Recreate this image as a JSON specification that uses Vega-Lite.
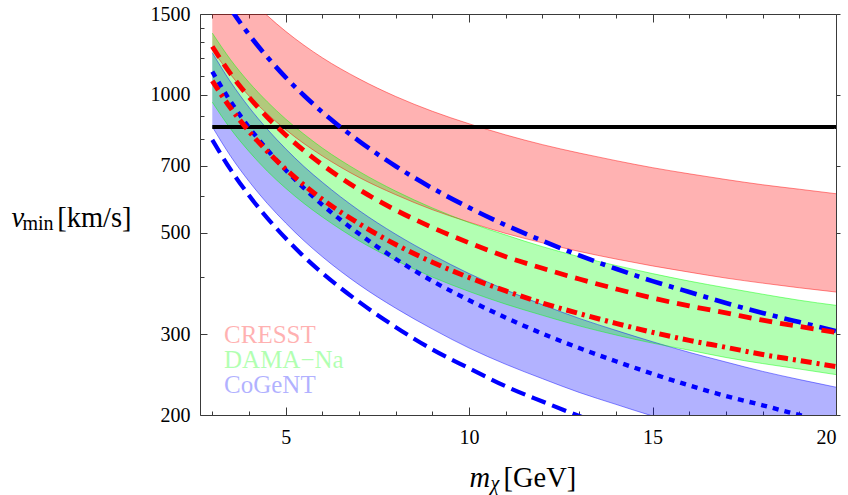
{
  "$schema": "https://vega.github.io/schema/vega-lite/v6.json",
  "width": 636,
  "height": 401,
  "autosize": {"type": "none"},
  "padding": {"left": 200, "top": 14, "right": 12, "bottom": 80},
  "background": "white",
  "config": {
    "view": {"stroke": null},
    "font": "Liberation Serif",
    "axis": {
      "labelFont": "Liberation Serif",
      "titleFont": "Liberation Serif",
      "labelFontSize": 20,
      "titleFontWeight": "normal",
      "labelColor": "#000000",
      "titleColor": "#000000",
      "domainColor": "#3a3a3a",
      "tickColor": "#3a3a3a",
      "grid": false
    }
  },
  "datasets": {
    "bands": [
      {"band": "CoGeNT", "m": 3, "lo": 851, "hi": 1235},
      {"band": "CoGeNT", "m": 3.5, "lo": 734, "hi": 1066},
      {"band": "CoGeNT", "m": 4, "lo": 647, "hi": 939},
      {"band": "CoGeNT", "m": 4.5, "lo": 579, "hi": 841},
      {"band": "CoGeNT", "m": 5, "lo": 525, "hi": 762},
      {"band": "CoGeNT", "m": 5.5, "lo": 480, "hi": 697},
      {"band": "CoGeNT", "m": 6, "lo": 443, "hi": 644},
      {"band": "CoGeNT", "m": 7, "lo": 385, "hi": 559},
      {"band": "CoGeNT", "m": 8, "lo": 342, "hi": 496},
      {"band": "CoGeNT", "m": 9, "lo": 308, "hi": 447},
      {"band": "CoGeNT", "m": 10, "lo": 280, "hi": 407},
      {"band": "CoGeNT", "m": 11, "lo": 258, "hi": 375},
      {"band": "CoGeNT", "m": 12, "lo": 240, "hi": 348},
      {"band": "CoGeNT", "m": 13, "lo": 224, "hi": 325},
      {"band": "CoGeNT", "m": 14, "lo": 211, "hi": 306},
      {"band": "CoGeNT", "m": 15, "lo": 199, "hi": 289},
      {"band": "CoGeNT", "m": 16, "lo": 189, "hi": 274},
      {"band": "CoGeNT", "m": 17, "lo": 180, "hi": 261},
      {"band": "CoGeNT", "m": 18, "lo": 172, "hi": 249},
      {"band": "CoGeNT", "m": 19, "lo": 165, "hi": 239},
      {"band": "CoGeNT", "m": 20, "lo": 158, "hi": 230},
      {"band": "CRESST", "m": 3, "lo": 1254, "hi": 2056},
      {"band": "CRESST", "m": 3.5, "lo": 1106, "hi": 1813},
      {"band": "CRESST", "m": 4, "lo": 994, "hi": 1630},
      {"band": "CRESST", "m": 4.5, "lo": 908, "hi": 1488},
      {"band": "CRESST", "m": 5, "lo": 839, "hi": 1375},
      {"band": "CRESST", "m": 5.5, "lo": 782, "hi": 1282},
      {"band": "CRESST", "m": 6, "lo": 735, "hi": 1204},
      {"band": "CRESST", "m": 7, "lo": 660, "hi": 1083},
      {"band": "CRESST", "m": 8, "lo": 605, "hi": 991},
      {"band": "CRESST", "m": 9, "lo": 561, "hi": 920},
      {"band": "CRESST", "m": 10, "lo": 527, "hi": 864},
      {"band": "CRESST", "m": 11, "lo": 498, "hi": 817},
      {"band": "CRESST", "m": 12, "lo": 475, "hi": 778},
      {"band": "CRESST", "m": 13, "lo": 455, "hi": 746},
      {"band": "CRESST", "m": 14, "lo": 438, "hi": 718},
      {"band": "CRESST", "m": 15, "lo": 423, "hi": 693},
      {"band": "CRESST", "m": 16, "lo": 410, "hi": 672},
      {"band": "CRESST", "m": 17, "lo": 398, "hi": 653},
      {"band": "CRESST", "m": 18, "lo": 388, "hi": 636},
      {"band": "CRESST", "m": 19, "lo": 379, "hi": 622},
      {"band": "CRESST", "m": 20, "lo": 371, "hi": 608},
      {"band": "DAMA", "m": 3, "lo": 963, "hi": 1363},
      {"band": "DAMA", "m": 3.5, "lo": 842, "hi": 1192},
      {"band": "DAMA", "m": 4, "lo": 752, "hi": 1064},
      {"band": "DAMA", "m": 4.5, "lo": 681, "hi": 965},
      {"band": "DAMA", "m": 5, "lo": 625, "hi": 885},
      {"band": "DAMA", "m": 5.5, "lo": 579, "hi": 820},
      {"band": "DAMA", "m": 6, "lo": 541, "hi": 765},
      {"band": "DAMA", "m": 7, "lo": 480, "hi": 680},
      {"band": "DAMA", "m": 8, "lo": 435, "hi": 616},
      {"band": "DAMA", "m": 9, "lo": 400, "hi": 566},
      {"band": "DAMA", "m": 10, "lo": 372, "hi": 526},
      {"band": "DAMA", "m": 11, "lo": 349, "hi": 494},
      {"band": "DAMA", "m": 12, "lo": 330, "hi": 466},
      {"band": "DAMA", "m": 13, "lo": 313, "hi": 443},
      {"band": "DAMA", "m": 14, "lo": 299, "hi": 424},
      {"band": "DAMA", "m": 15, "lo": 287, "hi": 407},
      {"band": "DAMA", "m": 16, "lo": 277, "hi": 392},
      {"band": "DAMA", "m": 17, "lo": 267, "hi": 379},
      {"band": "DAMA", "m": 18, "lo": 259, "hi": 367},
      {"band": "DAMA", "m": 19, "lo": 252, "hi": 356},
      {"band": "DAMA", "m": 20, "lo": 245, "hi": 347}
    ],
    "curves": [
      {"curve": "limit", "m": 3, "v": 850},
      {"curve": "limit", "m": 20, "v": 850},
      {"curve": "A1", "m": 3, "v": 797},
      {"curve": "A1", "m": 3.5, "v": 686},
      {"curve": "A1", "m": 4, "v": 603},
      {"curve": "A1", "m": 4.5, "v": 538},
      {"curve": "A1", "m": 5, "v": 486},
      {"curve": "A1", "m": 5.5, "v": 443},
      {"curve": "A1", "m": 6, "v": 408},
      {"curve": "A1", "m": 7, "v": 353},
      {"curve": "A1", "m": 8, "v": 311},
      {"curve": "A1", "m": 9, "v": 278},
      {"curve": "A1", "m": 10, "v": 253},
      {"curve": "A1", "m": 11, "v": 231},
      {"curve": "A1", "m": 12, "v": 214},
      {"curve": "A1", "m": 13, "v": 199},
      {"curve": "A1", "m": 14, "v": 186},
      {"curve": "A1", "m": 15, "v": 175},
      {"curve": "A2", "m": 3, "v": 1123},
      {"curve": "A2", "m": 3.5, "v": 966},
      {"curve": "A2", "m": 4, "v": 849},
      {"curve": "A2", "m": 4.5, "v": 758},
      {"curve": "A2", "m": 5, "v": 685},
      {"curve": "A2", "m": 5.5, "v": 625},
      {"curve": "A2", "m": 6, "v": 575},
      {"curve": "A2", "m": 7, "v": 497},
      {"curve": "A2", "m": 8, "v": 438},
      {"curve": "A2", "m": 9, "v": 392},
      {"curve": "A2", "m": 10, "v": 356},
      {"curve": "A2", "m": 11, "v": 326},
      {"curve": "A2", "m": 12, "v": 301},
      {"curve": "A2", "m": 13, "v": 280},
      {"curve": "A2", "m": 14, "v": 262},
      {"curve": "A2", "m": 15, "v": 246},
      {"curve": "A2", "m": 16, "v": 232},
      {"curve": "A2", "m": 17, "v": 220},
      {"curve": "A2", "m": 18, "v": 210},
      {"curve": "A2", "m": 19, "v": 200},
      {"curve": "A2", "m": 20, "v": 191},
      {"curve": "A3", "m": 3, "v": 1790},
      {"curve": "A3", "m": 3.5, "v": 1540},
      {"curve": "A3", "m": 4, "v": 1353},
      {"curve": "A3", "m": 4.5, "v": 1208},
      {"curve": "A3", "m": 5, "v": 1091},
      {"curve": "A3", "m": 5.5, "v": 996},
      {"curve": "A3", "m": 6, "v": 916},
      {"curve": "A3", "m": 7, "v": 792},
      {"curve": "A3", "m": 8, "v": 698},
      {"curve": "A3", "m": 9, "v": 625},
      {"curve": "A3", "m": 10, "v": 567},
      {"curve": "A3", "m": 11, "v": 519},
      {"curve": "A3", "m": 12, "v": 480},
      {"curve": "A3", "m": 13, "v": 446},
      {"curve": "A3", "m": 14, "v": 417},
      {"curve": "A3", "m": 15, "v": 392},
      {"curve": "A3", "m": 16, "v": 371},
      {"curve": "A3", "m": 17, "v": 351},
      {"curve": "A3", "m": 18, "v": 334},
      {"curve": "A3", "m": 19, "v": 319},
      {"curve": "A3", "m": 20, "v": 305},
      {"curve": "B1", "m": 3, "v": 1274},
      {"curve": "B1", "m": 3.5, "v": 1110},
      {"curve": "B1", "m": 4, "v": 988},
      {"curve": "B1", "m": 4.5, "v": 893},
      {"curve": "B1", "m": 5, "v": 817},
      {"curve": "B1", "m": 5.5, "v": 755},
      {"curve": "B1", "m": 6, "v": 703},
      {"curve": "B1", "m": 7, "v": 621},
      {"curve": "B1", "m": 8, "v": 560},
      {"curve": "B1", "m": 9, "v": 513},
      {"curve": "B1", "m": 10, "v": 475},
      {"curve": "B1", "m": 11, "v": 443},
      {"curve": "B1", "m": 12, "v": 418},
      {"curve": "B1", "m": 13, "v": 396},
      {"curve": "B1", "m": 14, "v": 377},
      {"curve": "B1", "m": 15, "v": 360},
      {"curve": "B1", "m": 16, "v": 346},
      {"curve": "B1", "m": 17, "v": 334},
      {"curve": "B1", "m": 18, "v": 322},
      {"curve": "B1", "m": 19, "v": 312},
      {"curve": "B1", "m": 20, "v": 303},
      {"curve": "B2", "m": 3, "v": 1072},
      {"curve": "B2", "m": 3.5, "v": 935},
      {"curve": "B2", "m": 4, "v": 832},
      {"curve": "B2", "m": 4.5, "v": 752},
      {"curve": "B2", "m": 5, "v": 688},
      {"curve": "B2", "m": 5.5, "v": 635},
      {"curve": "B2", "m": 6, "v": 591},
      {"curve": "B2", "m": 7, "v": 523},
      {"curve": "B2", "m": 8, "v": 471},
      {"curve": "B2", "m": 9, "v": 431},
      {"curve": "B2", "m": 10, "v": 399},
      {"curve": "B2", "m": 11, "v": 373},
      {"curve": "B2", "m": 12, "v": 351},
      {"curve": "B2", "m": 13, "v": 333},
      {"curve": "B2", "m": 14, "v": 317},
      {"curve": "B2", "m": 15, "v": 303},
      {"curve": "B2", "m": 16, "v": 291},
      {"curve": "B2", "m": 17, "v": 281},
      {"curve": "B2", "m": 18, "v": 271},
      {"curve": "B2", "m": 19, "v": 263},
      {"curve": "B2", "m": 20, "v": 255}
    ],
    "labels": [
      {"band": "CRESST", "label": "CRESST", "m": 3.32, "v": 286.7},
      {"band": "DAMA", "label": "DAMA\u2212Na", "m": 3.32, "v": 252.8},
      {"band": "CoGeNT", "label": "CoGeNT", "m": 3.32, "v": 223.0}
    ]
  },
  "layer": [
    {
      "data": {"name": "bands"},
      "mark": {"type": "area", "clip": true, "interpolate": "monotone"},
      "encoding": {
        "x": {
          "field": "m", "type": "quantitative",
          "scale": {"domain": [2.665, 20], "nice": false, "zero": false},
          "axis": {
            "orient": "bottom",
            "values": [3, 4, 5, 6, 7, 8, 9, 10, 11, 12, 13, 14, 15, 16, 17, 18, 19, 20],
            "format": "d",
            "labelExpr": "datum.value % 5 == 0 ? datum.label : ''",
            "tickSize": {"condition": {"test": "datum.value % 5 == 0", "value": -8}, "value": -4},
            "labelPadding": 20,
            "labelBaseline": "top",
            "title": "m",
            "titleFontStyle": "italic",
            "titleFontSize": 28.5,
            "titleX": 269,
            "titleY": 71,
            "titleAlign": "left",
            "titleAnchor": null,
            "titleBaseline": "alphabetic"
          }
        },
        "y": {
          "field": "hi", "type": "quantitative",
          "scale": {"type": "log", "domain": [200, 1500], "nice": false},
          "axis": {
            "orient": "left",
            "values": [200, 300, 400, 500, 600, 700, 800, 900, 1000, 1100, 1200, 1300, 1400, 1500],
            "format": "d",
            "labelExpr": "indexof([200, 300, 500, 700, 1000, 1500], datum.value) >= 0 ? datum.label : ''",
            "tickSize": {"condition": {"test": "indexof([200, 300, 500, 700, 1000, 1500], datum.value) >= 0", "value": -7}, "value": -4},
            "labelPadding": 17,
            "title": "v",
            "titleFontStyle": "italic",
            "titleFontSize": 28.5,
            "titleAngle": 0,
            "titleX": -189,
            "titleY": 212.7,
            "titleAlign": "left",
            "titleAnchor": null,
            "titleBaseline": "alphabetic"
          }
        },
        "y2": {"field": "lo"},
        "color": {
          "field": "band", "type": "nominal",
          "scale": {"domain": ["CoGeNT", "CRESST", "DAMA"], "range": ["#0000ff", "#ff0000", "#00ff00"]},
          "legend": null
        },
        "opacity": {
          "field": "band", "type": "nominal",
          "scale": {"domain": ["CoGeNT", "CRESST", "DAMA"], "range": [0.3, 0.3, 0.42]},
          "legend": null
        }
      }
    },
    {
      "data": {"name": "bands"},
      "transform": [{"fold": ["lo", "hi"], "as": ["edge", "val"]}],
      "mark": {"type": "line", "clip": true, "interpolate": "monotone", "strokeWidth": 1, "opacity": 0.45},
      "encoding": {
        "x": {
          "field": "m", "type": "quantitative",
          "axis": {
            "orient": "top",
            "values": [3, 4, 5, 6, 7, 8, 9, 10, 11, 12, 13, 14, 15, 16, 17, 18, 19, 20],
            "labels": false,
            "tickSize": {"condition": {"test": "datum.value % 5 == 0", "value": -8}, "value": -4},
            "title": null
          }
        },
        "y": {
          "field": "val", "type": "quantitative",
          "axis": {
            "orient": "right",
            "values": [200, 300, 500, 700, 1000, 1500],
            "labels": false,
            "tickSize": 4,
            "title": null
          }
        },
        "color": {"field": "band", "type": "nominal", "legend": null},
        "detail": {"field": "edge", "type": "nominal"}
      }
    },
    {
      "data": {"name": "curves"},
      "mark": {"type": "line", "clip": true, "interpolate": "monotone"},
      "encoding": {
        "x": {
          "field": "m", "type": "quantitative",
          "axis": {
            "orient": "bottom", "domain": false, "ticks": false, "labels": false,
            "title": "[GeV]",
            "titleFontSize": 28.5,
            "titleX": 303,
            "titleY": 71,
            "titleAlign": "left",
            "titleAnchor": null,
            "titleBaseline": "alphabetic"
          }
        },
        "y": {
          "field": "v", "type": "quantitative",
          "axis": {
            "orient": "left", "domain": false, "ticks": false, "labels": false,
            "title": "[km/s]",
            "titleFontSize": 28.5,
            "titleAngle": 0,
            "titleX": -143.3,
            "titleY": 212.7,
            "titleAlign": "left",
            "titleAnchor": null,
            "titleBaseline": "alphabetic"
          }
        },
        "stroke": {
          "field": "curve", "type": "nominal",
          "scale": {"domain": ["limit", "A1", "A2", "A3", "B1", "B2"], "range": ["#000000", "#0000ff", "#0000ff", "#0000ff", "#ff0000", "#ff0000"]},
          "legend": null
        },
        "strokeWidth": {
          "field": "curve", "type": "nominal",
          "scale": {"domain": ["limit", "A1", "A2", "A3", "B1", "B2"], "range": [4, 5, 5, 5, 3, 3]},
          "legend": null
        },
        "strokeDash": {
          "field": "curve", "type": "nominal",
          "scale": {"domain": ["limit", "A1", "A2", "A3", "B1", "B2"], "range": [[1, 0], [15, 7], [6, 6], [17, 7, 5, 7], [13, 8], [11, 5, 3, 5]]},
          "legend": null
        }
      }
    },
    {
      "data": {"name": "labels"},
      "mark": {"type": "text", "align": "left", "baseline": "alphabetic", "fontSize": 25, "font": "Liberation Serif"},
      "encoding": {
        "x": {
          "field": "m", "type": "quantitative",
          "axis": {
            "orient": "bottom", "domain": false, "ticks": false, "labels": false,
            "title": "\u03c7",
            "titleFontStyle": "italic",
            "titleFontSize": 20,
            "titleX": 290,
            "titleY": 74,
            "titleAlign": "left",
            "titleAnchor": null,
            "titleBaseline": "alphabetic"
          }
        },
        "y": {
          "field": "v", "type": "quantitative",
          "axis": {
            "orient": "left", "domain": false, "ticks": false, "labels": false,
            "title": "min",
            "titleFontSize": 20,
            "titleAngle": 0,
            "titleX": -178,
            "titleY": 215.5,
            "titleAlign": "left",
            "titleAnchor": null,
            "titleBaseline": "alphabetic"
          }
        },
        "text": {"field": "label"},
        "color": {"field": "band", "type": "nominal", "legend": null},
        "opacity": {"field": "band", "type": "nominal", "legend": null}
      }
    }
  ],
  "resolve": {
    "scale": {"x": "shared", "y": "shared"},
    "axis": {"x": "independent", "y": "independent"}
  }
}
